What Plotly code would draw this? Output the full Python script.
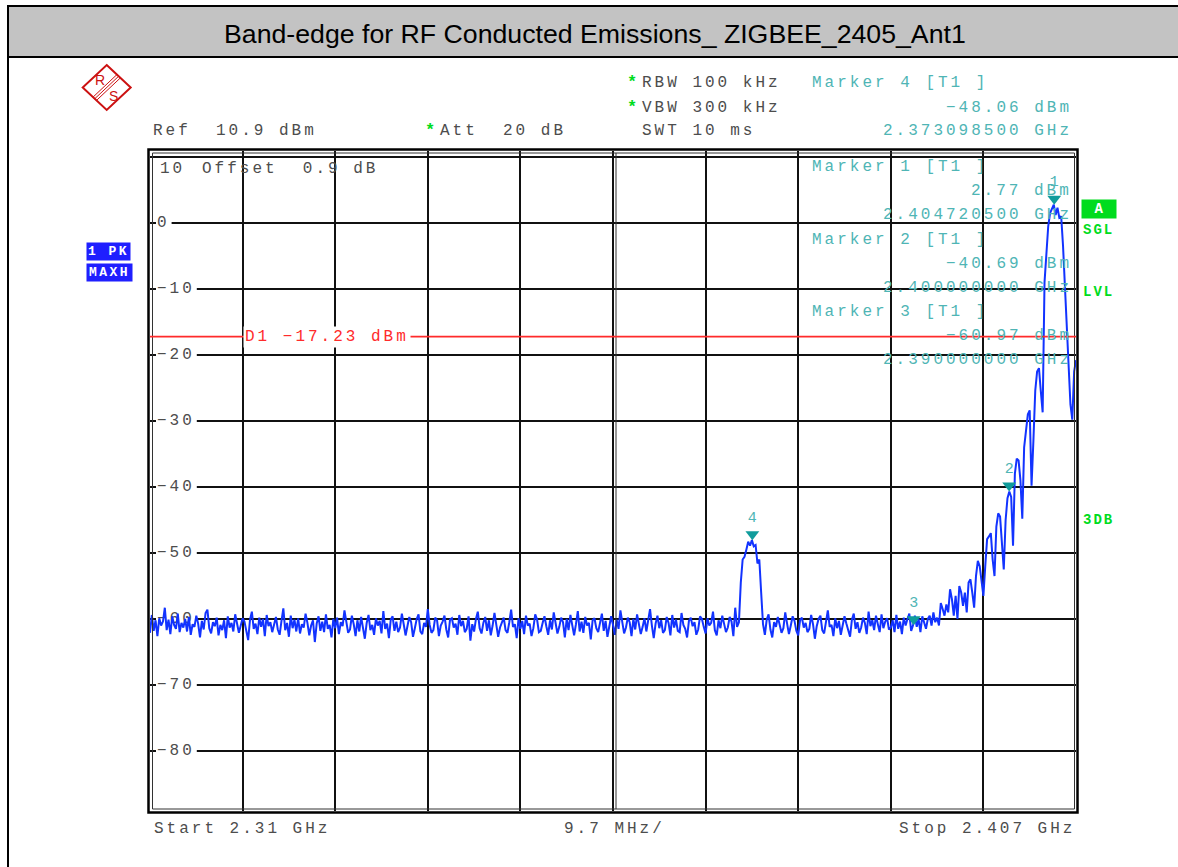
import numpy as np
import plotly.graph_objects as go

# ------------------------------------------------------------------ data
f_start_ghz = 2.31
f_stop_ghz = 2.407
ref_level_dbm = 10.9
range_db = 100.0
att_db = 20
offset_db = 0.9
rbw_khz = 100
vbw_khz = 300
swt_ms = 10
span_per_div = "9.7 MHz/"
chart_title = "Band-edge for RF Conducted Emissions_ ZIGBEE_2405_Ant1"

# trace (max hold), 501 sweep points split in segments
trace_floor_a = [
    -62.1, -59.4, -61.8, -60.2, -62.6, -59.9, -61.0, -60.4, -58.3, -61.7, -60.1, -62.3, -59.6, -60.9, -61.5, -59.2, -62.0, -60.6, -61.3, -60.0,
    -61.9, -59.7, -62.4, -60.8, -61.2, -59.5, -60.7, -62.8, -60.3, -61.6, -59.1, -58.6, -61.4, -62.2, -60.5, -61.1, -59.8, -62.5, -60.9, -61.7,
    -60.2, -62.9, -59.6, -61.3, -60.6, -61.9, -59.3, -60.8, -62.1, -61.0, -59.9, -60.4, -61.8, -63.2, -60.1, -58.9, -61.5, -60.7, -62.3, -59.8,
    -61.2, -60.0, -62.6, -59.4, -61.1, -60.5, -62.0, -60.9, -59.7, -61.6, -62.4, -60.3, -58.4, -61.7, -60.6, -62.7, -59.5, -61.4, -60.1, -61.9,
    -59.9, -62.2, -60.8, -61.3, -59.2, -60.6, -62.5, -61.0, -60.2, -63.5, -60.7, -59.6, -61.8, -60.4, -62.0, -59.3, -61.5, -60.9, -62.8, -60.0,
    -61.4, -59.8, -62.3, -60.5, -61.1, -58.7, -60.3, -62.1, -61.6, -59.5, -60.8, -62.6, -60.2, -61.9, -59.7, -61.2, -63.0, -60.6, -59.4, -61.7,
    -60.9, -62.4, -59.9, -61.0, -60.3, -62.2, -58.8, -61.5, -60.7, -62.9, -60.1, -59.6, -61.8, -60.4, -62.0, -61.3, -59.2, -60.8, -62.5, -61.1,
    -59.7, -60.5, -62.7, -61.4, -60.0, -59.3, -61.9, -62.3, -60.6, -61.2, -58.5, -60.9, -62.1, -61.7, -59.8, -60.2, -62.6, -61.0, -60.4, -59.5,
    -61.6, -62.8, -60.1, -59.9, -61.3, -60.7, -62.4, -59.4, -61.1, -60.3, -62.0, -61.5, -59.6, -63.3, -60.8, -61.9, -60.0, -58.9, -61.4, -62.2,
    -60.6, -59.7, -61.8, -60.2, -62.5, -61.0, -59.1, -60.9, -62.7, -61.3, -60.4, -59.8, -61.7, -62.1, -60.5, -58.6, -61.2, -60.8, -62.9, -59.9,
    -61.5, -60.3, -62.3, -59.5, -61.0, -60.7, -62.6, -61.4, -59.3, -60.1, -62.0, -61.8, -60.6, -59.6, -61.1, -62.4, -60.2, -61.6, -59.0, -60.9,
    -62.2, -61.2, -59.8, -60.5, -62.8, -60.0, -61.7, -59.4, -61.3, -62.5, -60.8, -58.8, -61.9, -60.4, -62.1, -59.7, -61.0, -60.6, -63.1, -60.2,
    -59.9, -61.4, -62.0, -60.7, -59.2, -61.8, -60.3, -62.7, -61.1, -59.6, -60.9, -62.4, -60.1, -61.5, -58.7, -60.6, -62.2, -61.3, -59.8, -60.5,
    -62.6, -60.0, -61.6, -59.3, -60.8, -62.3, -61.2, -59.9, -61.9, -60.4, -58.5, -61.0, -62.9, -60.7, -59.5, -61.4, -60.2, -62.1, -61.7, -59.7,
    -60.6, -62.5, -59.4, -61.3, -60.1, -61.8, -62.0, -59.1, -60.9, -61.5, -62.8, -60.3, -59.8, -61.1, -60.5, -62.4, -61.6, -59.6, -60.0, -61.2,
    -62.2, -59.9, -61.0, -60.6, -58.9, -61.7, -62.5, -60.2, -61.4, -59.5, -60.8, -62.0, -61.3, -59.7, -60.4, -62.6, -58.3,
]
trace_spur = [-61.2, -60.5, -54.5, -51.0, -50.6, -49.5, -48.3, -48.9, -48.06, -49.0, -48.8, -51.6, -51.0, -56.0, -60.8]
trace_floor_b = [
    -62.4, -60.1, -59.3, -61.6, -62.8, -60.5, -61.2, -59.7, -60.9, -62.1, -61.4, -59.0, -60.7, -62.3, -61.0, -59.6, -60.3, -61.8, -62.5, -60.2,
    -59.8, -61.3, -60.6, -62.0, -61.5, -59.4, -60.8, -63.0, -61.1, -60.0, -59.5, -61.7, -62.2, -60.4, -58.7, -61.2, -60.9, -62.6, -59.9, -61.4,
    -60.3, -62.4, -61.0, -59.6, -60.7, -61.9, -62.7, -60.1, -59.2, -61.5, -60.5, -62.1, -61.3, -59.8, -60.6, -62.3, -58.9, -61.1, -60.2, -61.7,
    -59.5, -60.8, -62.0, -59.3, -61.4, -60.4, -59.9, -61.6,
]
trace_skirt = [
    -61.3, -60.2, -62.0, -59.4, -61.5, -60.4, -62.3, -59.8, -61.0, -60.0, -59.2, -61.8, -60.97, -59.5, -61.2, -60.0, -62.0, -59.6, -60.8, -61.5,
    -60.0, -59.5, -61.0, -59.0, -60.5, -59.8, -61.0, -57.6, -58.5, -59.5, -57.8, -59.0, -55.5, -57.0, -59.5, -56.5, -60.0, -55.0, -56.0, -58.0,
    -56.0, -59.0, -54.5, -54.0, -56.0, -58.3, -53.5, -51.2, -52.0, -54.0, -56.5, -52.0, -47.9, -47.5, -47.0, -51.0, -53.5, -46.0, -44.0, -44.5,
    -48.0, -52.5, -45.0, -41.7, -40.69, -41.5,
]
trace_lobe = [
    -48.9, -38.0, -35.7, -36.0, -39.0, -44.8, -34.0, -31.0, -29.0, -28.4, -39.8, -33.0, -25.4, -22.5, -22.0, -25.5, -28.7,
    -9.0, -3.8, -0.5, 1.5, 2.2, 2.77, 1.2, 2.3, 0.8, 1.0, -3.5, -9.5, -14.5, -20.5, -27.5, -29.8, -22.5, -20.8,
]

marker_ids = ["1", "2", "3", "4"]
marker_freq_ghz = [2.4047205, 2.400, 2.390, 2.3730985]
marker_dbm = [2.77, -40.69, -60.97, -48.06]
d1_dbm = -17.23
y_grid_labels = [0, -10, -20, -30, -40, -50, -60, -70, -80]

# ------------------------------------------------------------------ geometry / style
W, H = 1178, 867
PL, PR, PT, PB = 150, 1076, 151, 811          # plot area in pixels
MONO = "Liberation Mono"
GRAY = "#4d4d4d"
TEAL = "#4fb5b5"
TEAL_DARK = "#109c9c"
GREEN = "#00dc1e"
BLUE = "#1233ff"
RED = "#ff2b2b"
LS = 3.0          # letter spacing of the analyzer font
PITCH = 12.6      # resulting character pitch (px)

y_top = ref_level_dbm
y_bot = ref_level_dbm - range_db
db_per_px = range_db / (PB - PT)
ghz_per_px = (f_stop_ghz - f_start_ghz) / (PR - PL)


def px_x(px):
    return (px - PL) / (PR - PL)


def px_y(py):
    return (PB - py) / (PB - PT)


def px_f(px):
    return f_start_ghz + (px - PL) * ghz_per_px


def mono(s, ls=LS):
    s = s.replace(" ", "\u00a0").replace("-", "\u2212")
    return f'<span style="letter-spacing:{ls}px">{s}</span>'


annotations = []


def add_text(s, x, y, color=GRAY, size=16, xanchor="left", yanchor="middle", ls=LS,
             bold=False, family=MONO, bg=None, xref="paper", yref="paper", raw=False, **kw):
    t = s if raw else mono(s, ls)
    if bold:
        t = f"<b>{t}</b>"
    d = dict(text=t, x=x, y=y, xref=xref, yref=yref, xanchor=xanchor, yanchor=yanchor,
             showarrow=False, font=dict(family=family, size=size, color=color), borderpad=1)
    if bg:
        d["bgcolor"] = bg
    d.update(kw)
    annotations.append(d)


level = trace_floor_a + trace_spur + trace_floor_b + trace_skirt + trace_lobe
freq = np.linspace(f_start_ghz, f_stop_ghz, len(level))

fig = go.Figure()

# white masks that break the graticule where the scale labels sit (beneath the trace)
mask_x, mask_y = [], []
for v in y_grid_labels:
    n = len(f"{v}")
    mask_x += [px_f(156), px_f(158 + n * PITCH + 1), None]
    mask_y += [v, v, None]
fig.add_trace(go.Scatter(x=mask_x, y=mask_y, mode="lines", line=dict(color="white", width=14),
                         connectgaps=False, hoverinfo="skip", showlegend=False))

# y scale labels written inside the diagram
fig.add_trace(go.Scatter(
    x=[px_f(157)] * len(y_grid_labels), y=y_grid_labels, mode="text",
    text=[mono(f"{v}") for v in y_grid_labels], textposition="middle right",
    textfont=dict(family=MONO, size=16, color=GRAY), hoverinfo="skip", showlegend=False))

fig.add_trace(go.Scatter(x=freq, y=level, mode="lines",
                         line=dict(color=BLUE, width=2), hoverinfo="skip", showlegend=False))

# markers: triangle tip sits on the marker level
tri_size = 12
fig.add_trace(go.Scatter(
    x=marker_freq_ghz, y=[v + (tri_size / 2) * db_per_px for v in marker_dbm],
    mode="markers+text", text=marker_ids, textposition="top center",
    textfont=dict(family=MONO, size=15, color=TEAL),
    marker=dict(symbol="triangle-down", size=tri_size, color=TEAL_DARK, line=dict(width=0)),
    hoverinfo="skip", showlegend=False, cliponaxis=False))

shapes = []
# title bar and page border
shapes.append(dict(type="rect", xref="paper", yref="paper", x0=px_x(8), x1=px_x(1190), y0=px_y(6), y1=px_y(57),
                   fillcolor="#c3c3c3", line=dict(color="black", width=2), layer="below"))
shapes.append(dict(type="line", xref="paper", yref="paper", x0=px_x(8), x1=px_x(8), y0=px_y(57), y1=px_y(880),
                   line=dict(color="black", width=2)))
# double frame of the diagram
shapes.append(dict(type="rect", xref="paper", yref="paper", x0=px_x(148.5), x1=px_x(1077.5), y0=px_y(812.5), y1=px_y(149.5),
                   line=dict(color="black", width=2.5)))
shapes.append(dict(type="rect", xref="paper", yref="paper", x0=px_x(152.5), x1=px_x(1074.5), y0=px_y(809), y1=px_y(153),
                   line=dict(color="#333333", width=1)))
# centre graticule line is doubled on the analyzer screen
shapes.append(dict(type="line", xref="paper", yref="paper", x0=px_x(616), x1=px_x(616), y0=px_y(809), y1=px_y(153),
                   line=dict(color="#333333", width=1)))
# display line D1
shapes.append(dict(type="line", xref="paper", yref="y", x0=0, x1=1, y0=d1_dbm, y1=d1_dbm,
                   line=dict(color=RED, width=1.6)))

# R&S logo
def path(pts):
    return "M " + " L ".join(f"{px_x(a):.5f},{px_y(b):.5f}" for a, b in pts) + " Z"

shapes.append(dict(type="path", xref="paper", yref="paper",
                   path=path([(106.7, 65), (130.7, 87.5), (106.7, 110), (82.7, 87.5)]),
                   line=dict(color="#cc1111", width=2)))
for off in (-2.4, 0, 2.4):
    ox, oy = 0.68 * off, 0.73 * off
    shapes.append(dict(type="line", xref="paper", yref="paper",
                       x0=px_x(118.7 + ox), y0=px_y(76.2 + oy), x1=px_x(94.7 + ox), y1=px_y(98.8 + oy),
                       line=dict(color="#cc1111", width=1)))
add_text("R", px_x(99.5), px_y(80), color="#cc1111", size=14, family="Liberation Sans", raw=True, xanchor="center")
add_text("S", px_x(113.5), px_y(96), color="#cc1111", size=14, family="Liberation Sans", raw=True, xanchor="center")

# title
add_text(chart_title, px_x(595), px_y(34), color="black", size=26.7, family="Liberation Sans",
         xanchor="center", raw=True)

# header texts
add_text(f"RBW {rbw_khz} kHz", px_x(640), px_y(83))
add_text(f"VBW {vbw_khz} kHz", px_x(640), px_y(108))
add_text(f"SWT {swt_ms} ms", px_x(640), px_y(131))
add_text(f"Ref  {ref_level_dbm:.1f} dBm", px_x(151), px_y(131))
add_text(f"Att  {att_db} dB", px_x(438), px_y(131))
for ax_, ay_ in ((625, 82), (625, 107), (423, 130)):
    add_text("*", px_x(ax_), px_y(ay_), color=GREEN, size=17, ls=0, bold=True)

# marker readouts
readout_rows = {3: (83, 108, 131), 0: (167, 191, 215), 1: (240, 264, 288), 2: (312, 336, 360)}
for k, (r1, r2, r3) in readout_rows.items():
    add_text(f"Marker {marker_ids[k]} [T1 ]", px_x(810), px_y(r1), color=TEAL)
    add_text(f"{marker_dbm[k]:.2f} dBm", px_x(1074), px_y(r2), color=TEAL, xanchor="right")
    add_text(f"{marker_freq_ghz[k]:.9f} GHz", px_x(1074), px_y(r3), color=TEAL, xanchor="right")

# top scale value and reference offset
add_text(f"{int(round(y_top - offset_db))}", px_x(158), y_top - offset_db - 0.1, yref="y", yanchor="top")
add_text(f"Offset  {offset_db} dB", px_x(200), y_top - offset_db - 0.1, yref="y", yanchor="top")

# D1 label
add_text(f"D1 {d1_dbm:.2f} dBm", px_x(243), d1_dbm, yref="y", color=RED, bg="white")

# bottom
add_text(f"Start {f_start_ghz:g} GHz", px_x(152), px_y(829))
add_text(span_per_div, px_x(614), px_y(829), xanchor="center")
add_text(f"Stop {f_stop_ghz:g} GHz", px_x(1077), px_y(829), xanchor="right")

# trace info boxes
add_text("1 PK", px_x(108.5), px_y(251), color="white", size=13, bold=True, xanchor="center",
         bg="#1f1fff", ls=2.5, width=41, height=15, align="center")
add_text("MAXH", px_x(109), px_y(272.5), color="white", size=13, bold=True, xanchor="center",
         bg="#1f1fff", ls=2.5, width=43, height=15, align="center")
add_text("A", px_x(1099), px_y(209), color="white", size=14, bold=True, xanchor="center",
         bg=GREEN, ls=0, width=32, height=16, align="center")
add_text("SGL", px_x(1081), px_y(230), color=GREEN, size=14, bold=True, ls=2)
add_text("LVL", px_x(1081), px_y(292), color=GREEN, size=14, bold=True, ls=2)
add_text("3DB", px_x(1081), px_y(520), color=GREEN, size=14, bold=True, ls=2)

fig.update_layout(
    width=W, height=H, autosize=False,
    margin=dict(l=PL, r=W - PR, t=PT, b=H - PB, pad=0),
    paper_bgcolor="white", plot_bgcolor="white",
    showlegend=False, shapes=shapes, annotations=annotations,
    xaxis=dict(range=[f_start_ghz, f_stop_ghz], tick0=f_start_ghz, dtick=(f_stop_ghz - f_start_ghz) / 10,
               showgrid=True, gridcolor="#111111", gridwidth=2, zeroline=False,
               showticklabels=False, ticks="", showline=False, fixedrange=True),
    yaxis=dict(range=[y_bot, y_top], tick0=0, dtick=10,
               showgrid=True, gridcolor="#111111", gridwidth=2, zeroline=False,
               showticklabels=False, ticks="", showline=False, fixedrange=True),
)

fig.write_html("out.html", config={"displayModeBar": False},
               post_script="document.body.style.margin='0px';document.body.style.overflow='hidden';")
